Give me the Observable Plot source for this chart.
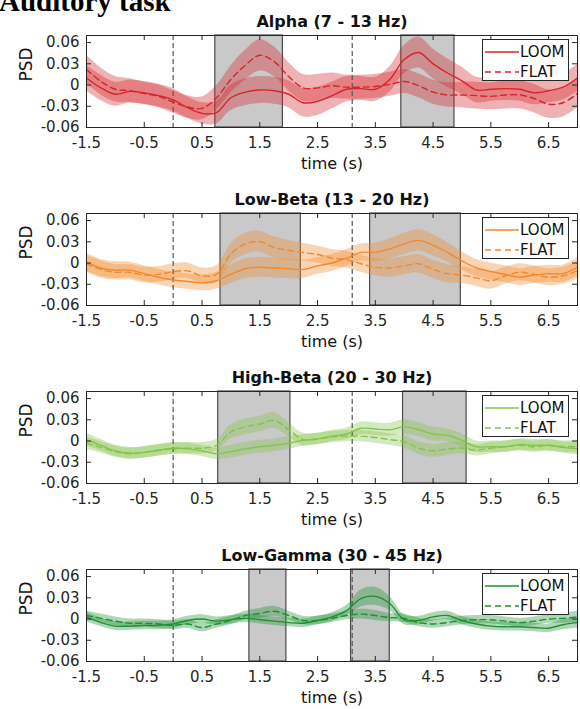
<!DOCTYPE html>
<html>
<head>
<meta charset="utf-8">
<script src="https://cdn.jsdelivr.net/npm/d3@7"></script>
<script src="https://cdn.jsdelivr.net/npm/@observablehq/plot@0.6"></script>
<style>
  body { margin: 0; background: #fff; }
  #fig { position: relative; width: 580px; height: 709px; overflow: hidden; background: #fff; }
  .panel { position: absolute; left: 0; width: 580px; height: 178px; }
  .heading { position: absolute; left: 0; top: 0; }
  .legend { position: absolute; left: 482px; }
</style>
</head>
<body>
<div id="fig"></div>
<script>
// Shared time grid (s)
const times = [-1.5, -1.25, -1.0, -0.75, -0.5, -0.25, 0, 0.25, 0.5, 0.75, 1.0, 1.25, 1.5, 1.75,
  2.0, 2.25, 2.5, 2.75, 3.0, 3.25, 3.5, 3.75, 4.0, 4.25, 4.5, 4.75, 5.0, 5.25, 5.5, 5.75,
  6.0, 6.25, 6.5, 6.75, 7.0];

const xTicks = [-1.5, -0.5, 0.5, 1.5, 2.5, 3.5, 4.5, 5.5, 6.5];
const yTicks = [-0.06, -0.03, 0, 0.03, 0.06];
const events = [0, 3.1];
const seriesNames = ["LOOM", "FLAT"];

const bandTitles = ["Alpha (7 - 13 Hz)", "Low-Beta (13 - 20 Hz)", "High-Beta (20 - 30 Hz)", "Low-Gamma (30 - 45 Hz)"];
const bandColors = ["#d4262c", "#f08a2c", "#86c34c", "#1f9033"];

// Alpha
const alphaLoom = [0.010, -0.004, -0.013, -0.009, -0.011, -0.015, -0.021, -0.032, -0.040, -0.039, -0.018, -0.010, -0.007, -0.008,
  -0.013, -0.025, -0.023, -0.015, -0.006, -0.005, -0.006, 0.008, 0.036, 0.046, 0.030, 0.017, 0.006, -0.007, -0.006, -0.005,
  -0.006, -0.011, -0.008, -0.003, 0.010];
const alphaFlat = [0.022, 0.005, -0.006, -0.008, -0.012, -0.016, -0.024, -0.031, -0.033, -0.018, 0.008, 0.028, 0.042, 0.033,
  0.012, -0.004, -0.004, -0.001, -0.003, -0.003, -0.002, 0.001, 0.005, -0.001, -0.010, -0.014, -0.014, -0.015, -0.016, -0.014,
  -0.014, -0.019, -0.027, -0.025, -0.012];
const alphaLoomSE = [0.018, 0.018, 0.017, 0.016, 0.016, 0.016, 0.016, 0.015, 0.015, 0.016, 0.018, 0.019, 0.019, 0.019,
  0.019, 0.020, 0.020, 0.019, 0.018, 0.017, 0.017, 0.018, 0.020, 0.022, 0.021, 0.020, 0.019, 0.018, 0.017, 0.017,
  0.017, 0.017, 0.017, 0.018, 0.019];
const alphaFlatSE = [0.020, 0.019, 0.018, 0.017, 0.016, 0.016, 0.016, 0.016, 0.016, 0.017, 0.019, 0.021, 0.022, 0.021,
  0.020, 0.019, 0.019, 0.018, 0.017, 0.017, 0.017, 0.017, 0.017, 0.017, 0.017, 0.017, 0.018, 0.019, 0.019, 0.020,
  0.020, 0.020, 0.020, 0.020, 0.020];
const alphaWindows = [[0.73, 1.90], [3.95, 4.87]];

// Low-Beta
const lowBetaLoom = [0.001, -0.007, -0.010, -0.010, -0.015, -0.020, -0.024, -0.026, -0.028, -0.025, -0.016, -0.008, -0.006, -0.007,
  -0.008, -0.009, -0.004, 0.000, 0.007, 0.015, 0.015, 0.020, 0.027, 0.032, 0.025, 0.015, 0.003, -0.007, -0.012, -0.016,
  -0.020, -0.017, -0.015, -0.015, -0.006];
const lowBetaFlat = [-0.001, -0.009, -0.013, -0.013, -0.017, -0.016, -0.012, -0.011, -0.018, -0.016, 0.013, 0.027, 0.030, 0.022,
  0.018, 0.015, 0.012, 0.007, 0.005, -0.001, -0.006, -0.007, -0.004, -0.001, -0.009, -0.015, -0.017, -0.021, -0.025, -0.018,
  -0.013, -0.016, -0.020, -0.018, -0.011];
const lowBetaLoomSE = [0.013, 0.012, 0.012, 0.011, 0.011, 0.011, 0.011, 0.011, 0.011, 0.012, 0.013, 0.014, 0.014, 0.014,
  0.014, 0.013, 0.012, 0.012, 0.012, 0.012, 0.013, 0.014, 0.015, 0.015, 0.015, 0.014, 0.013, 0.012, 0.012, 0.012,
  0.012, 0.012, 0.012, 0.012, 0.013];
const lowBetaFlatSE = [0.012, 0.012, 0.011, 0.011, 0.011, 0.011, 0.011, 0.011, 0.011, 0.012, 0.014, 0.015, 0.015, 0.015,
  0.014, 0.013, 0.012, 0.012, 0.012, 0.012, 0.012, 0.013, 0.013, 0.013, 0.013, 0.013, 0.012, 0.012, 0.012, 0.012,
  0.012, 0.012, 0.012, 0.012, 0.012];
const lowBetaWindows = [[0.82, 2.21], [3.41, 4.98]];

// High-Beta
const highBetaLoom = [0.002, -0.006, -0.014, -0.017, -0.016, -0.013, -0.010, -0.011, -0.014, -0.018, -0.015, -0.011, -0.008, -0.006,
  -0.003, 0.001, 0.003, 0.007, 0.010, 0.018, 0.017, 0.016, 0.020, 0.016, 0.010, 0.008, 0.001, -0.008, -0.008, -0.008,
  -0.005, -0.006, -0.006, -0.009, -0.011];
const highBetaFlat = [-0.003, -0.009, -0.015, -0.018, -0.016, -0.013, -0.011, -0.010, -0.010, -0.006, 0.013, 0.020, 0.024, 0.029,
  0.016, 0.002, 0.003, 0.006, 0.007, 0.007, 0.005, 0.002, -0.001, -0.010, -0.014, -0.011, -0.010, -0.013, -0.010, -0.008,
  -0.006, -0.008, -0.006, -0.008, -0.008];
const highBetaLoomSE = [0.009, 0.008, 0.008, 0.008, 0.008, 0.008, 0.008, 0.008, 0.008, 0.008, 0.009, 0.009, 0.009, 0.009,
  0.009, 0.008, 0.008, 0.008, 0.008, 0.009, 0.009, 0.009, 0.010, 0.010, 0.010, 0.009, 0.009, 0.008, 0.008, 0.008,
  0.008, 0.008, 0.008, 0.008, 0.009];
const highBetaFlatSE = [0.009, 0.008, 0.008, 0.008, 0.008, 0.008, 0.008, 0.008, 0.008, 0.008, 0.010, 0.011, 0.011, 0.011,
  0.010, 0.009, 0.008, 0.008, 0.008, 0.008, 0.008, 0.008, 0.009, 0.009, 0.009, 0.009, 0.008, 0.008, 0.008, 0.008,
  0.008, 0.008, 0.008, 0.008, 0.009];
const highBetaWindows = [[0.78, 2.03], [3.98, 5.08]];

// Low-Gamma
const lowGammaLoom = [0.003, -0.005, -0.010, -0.010, -0.009, -0.009, -0.007, -0.002, 0.000, -0.003, -0.001, 0.001, -0.001, -0.003,
  -0.005, -0.006, -0.002, 0.003, 0.012, 0.029, 0.032, 0.022, -0.001, -0.002, 0.003, 0.005, -0.002, -0.007, -0.010, -0.011,
  -0.011, -0.012, -0.013, -0.008, -0.005];
const lowGammaFlat = [0.005, 0.001, -0.003, -0.006, -0.006, -0.007, -0.009, -0.007, -0.012, -0.007, -0.002, 0.005, 0.008, 0.011,
  0.005, -0.002, -0.002, 0.001, 0.005, 0.007, 0.005, 0.002, 0.001, -0.005, -0.007, -0.005, -0.002, -0.001, -0.001, -0.003,
  -0.005, -0.003, 0.000, 0.001, 0.003];
const lowGammaLoomSE = [0.007, 0.006, 0.006, 0.006, 0.006, 0.006, 0.006, 0.006, 0.006, 0.006, 0.006, 0.006, 0.006, 0.006,
  0.006, 0.006, 0.006, 0.006, 0.007, 0.012, 0.013, 0.010, 0.007, 0.006, 0.006, 0.006, 0.006, 0.006, 0.006, 0.006,
  0.006, 0.006, 0.006, 0.007, 0.008];
const lowGammaFlatSE = [0.006, 0.006, 0.006, 0.006, 0.006, 0.006, 0.006, 0.006, 0.006, 0.006, 0.006, 0.006, 0.007, 0.007,
  0.006, 0.006, 0.006, 0.006, 0.006, 0.007, 0.007, 0.006, 0.006, 0.006, 0.006, 0.006, 0.006, 0.006, 0.006, 0.006,
  0.006, 0.006, 0.006, 0.007, 0.008];
const lowGammaWindows = [[1.32, 1.96], [3.08, 3.75]];

const panels = [
  {loom: alphaLoom, flat: alphaFlat, loomSE: alphaLoomSE, flatSE: alphaFlatSE, windows: alphaWindows},
  {loom: lowBetaLoom, flat: lowBetaFlat, loomSE: lowBetaLoomSE, flatSE: lowBetaFlatSE, windows: lowBetaWindows},
  {loom: highBetaLoom, flat: highBetaFlat, loomSE: highBetaLoomSE, flatSE: highBetaFlatSE, windows: highBetaWindows},
  {loom: lowGammaLoom, flat: lowGammaFlat, loomSE: lowGammaLoomSE, flatSE: lowGammaFlatSE, windows: lowGammaWindows}
].map((p, i) => ({...p, title: bandTitles[i], color: bandColors[i]}));

const W = 580, H = 178, ML = 86, MR = 3, MT = 35, MB = 51;
const innerW = W - ML - MR, innerH = H - MT - MB;
const axisColor = "#262626";
const font = "'DejaVu Sans', sans-serif";
const dash = "6,4";

function drawPanel(p) {
  const rows = times.map((t, i) => ({
    t, loom: p.loom[i], flat: p.flat[i], loomSE: p.loomSE[i], flatSE: p.flatSE[i]
  }));
  return Plot.plot({
    width: W, height: H,
    marginLeft: ML, marginRight: MR, marginTop: MT, marginBottom: MB,
    style: {fontFamily: font, fontSize: "15px", color: axisColor, background: "transparent", overflow: "visible"},
    x: {domain: [-1.5, 7]},
    y: {domain: [-0.06, 0.07]},
    marks: [
      Plot.rect(p.windows, {x1: d => d[0], x2: d => d[1], fill: "#c9c9c9", stroke: "#4a4a4a", strokeWidth: 1.2}),
      Plot.areaY(rows, {x: "t", y1: d => d.loom - d.loomSE, y2: d => d.loom + d.loomSE,
        fill: p.color, fillOpacity: 0.36, curve: "catmull-rom", clip: true}),
      Plot.areaY(rows, {x: "t", y1: d => d.flat - d.flatSE, y2: d => d.flat + d.flatSE,
        fill: p.color, fillOpacity: 0.36, curve: "catmull-rom", clip: true}),
      Plot.ruleX(events, {x: d => d, stroke: "#555", strokeWidth: 1.2, strokeDasharray: "5,3"}),
      Plot.line(rows, {x: "t", y: "loom", stroke: p.color, strokeWidth: 1.4, curve: "catmull-rom", clip: true}),
      Plot.line(rows, {x: "t", y: "flat", stroke: p.color, strokeWidth: 1.4, strokeDasharray: dash,
        curve: "catmull-rom", clip: true}),
      Plot.frame({stroke: axisColor, strokeWidth: 1}),
      // inward ticks on all four sides
      Plot.tickX(xTicks, {x: d => d, insetTop: innerH - 5, stroke: axisColor}),
      Plot.tickX(xTicks, {x: d => d, insetBottom: innerH - 5, stroke: axisColor}),
      Plot.tickY(yTicks, {y: d => d, insetRight: innerW - 5, stroke: axisColor}),
      Plot.tickY(yTicks, {y: d => d, insetLeft: innerW - 5, stroke: axisColor}),
      Plot.axisX(xTicks, {tickSize: 0, tickPadding: 10, tickFormat: d => d.toFixed(1), label: null, fontSize: 15}),
      Plot.axisY(yTicks, {tickSize: 0, tickPadding: 7, tickFormat: d => d === 0 ? "0" : d.toFixed(2), label: null, fontSize: 15}),
      Plot.text([p.title], {text: d => d, frameAnchor: "top", dy: -14, lineAnchor: "middle",
        fontWeight: "bold", fontSize: 16, fill: "#111"}),
      Plot.text(["time (s)"], {text: d => d, frameAnchor: "bottom", dy: 36, lineAnchor: "middle",
        fontSize: 16, fill: "#111"}),
      Plot.text(["PSD"], {text: d => d, frameAnchor: "left", dx: -60, rotate: -90, lineAnchor: "middle",
        fontSize: 17, fill: "#111"})
    ]
  });
}

function drawLegend(color) {
  const ns = "http://www.w3.org/2000/svg";
  const svg = document.createElementNS(ns, "svg");
  svg.setAttribute("width", 87);
  svg.setAttribute("height", 42);
  svg.innerHTML = `<rect x="0.5" y="0.5" width="86" height="41" fill="#fff" stroke="${axisColor}"/>`;
  seriesNames.forEach((name, i) => {
    const yy = 13 + i * 20;
    const line = document.createElementNS(ns, "line");
    line.setAttribute("x1", 3); line.setAttribute("x2", 37);
    line.setAttribute("y1", yy); line.setAttribute("y2", yy);
    line.setAttribute("stroke", color); line.setAttribute("stroke-width", 1.5);
    if (i === 1) line.setAttribute("stroke-dasharray", dash);
    svg.appendChild(line);
    const txt = document.createElementNS(ns, "text");
    txt.setAttribute("x", 38); txt.setAttribute("y", yy);
    txt.setAttribute("dy", "0.36em");
    txt.setAttribute("font-family", font);
    txt.setAttribute("font-size", 15);
    txt.setAttribute("fill", "#111");
    txt.textContent = name;
    svg.appendChild(txt);
  });
  return svg;
}

const fig = document.getElementById("fig");
panels.forEach((p, i) => {
  const div = document.createElement("div");
  div.className = "panel";
  div.style.top = (i * H) + "px";
  div.appendChild(drawPanel(p));
  const leg = drawLegend(p.color);
  leg.classList.add("legend");
  leg.style.top = (MT + 4) + "px";
  div.appendChild(leg);
  fig.appendChild(div);
});

// figure heading
const ns = "http://www.w3.org/2000/svg";
const head = document.createElementNS(ns, "svg");
head.setAttribute("width", 240);
head.setAttribute("height", 20);
head.setAttribute("class", "heading");
head.innerHTML = `<text x="-1" y="11" font-family="'Liberation Serif', 'Times New Roman', serif" font-weight="bold" font-size="29" fill="#000">Auditory task</text>`;
fig.appendChild(head);
</script>
</body>
</html>
